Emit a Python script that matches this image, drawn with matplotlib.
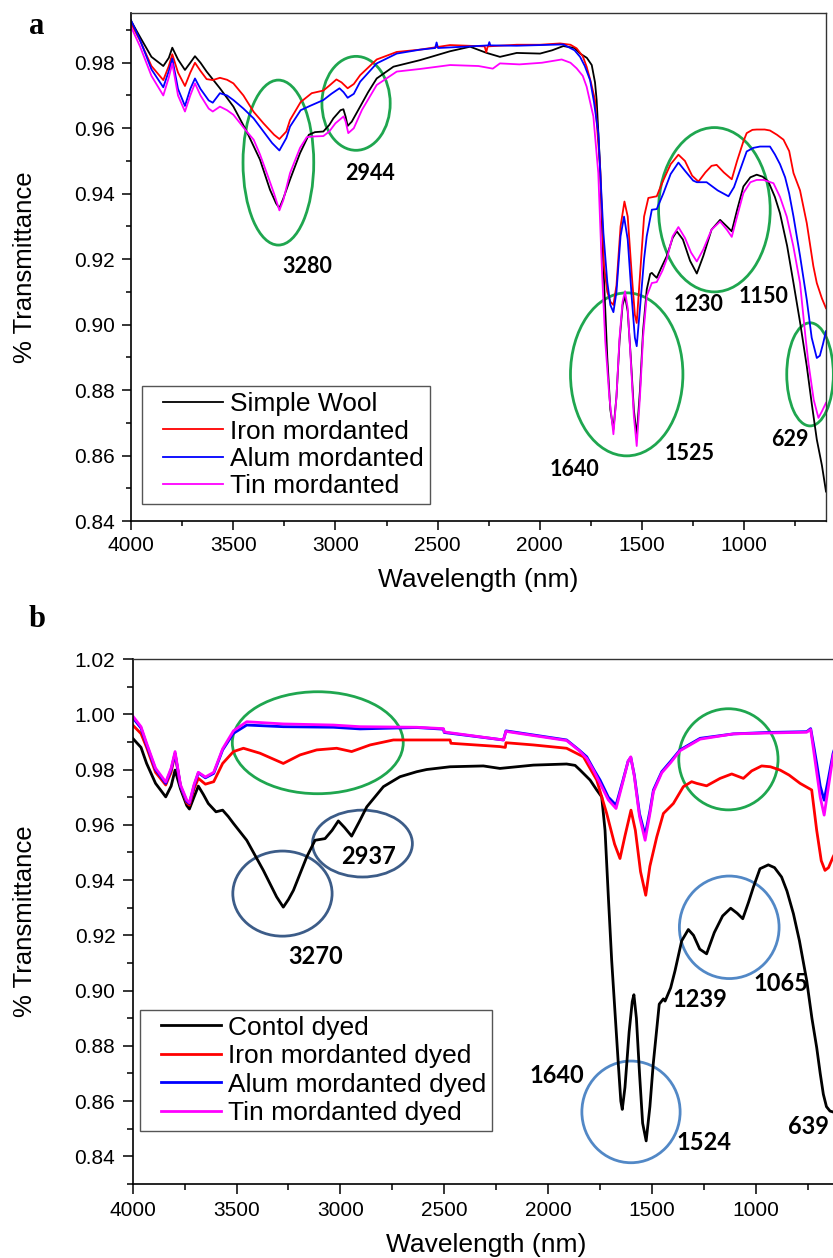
import matplotlib
matplotlib.use("Agg")
import matplotlib.pyplot as plt
from matplotlib.patches import Ellipse
from matplotlib.ticker import MultipleLocator, FormatStrFormatter
from matplotlib.legend_handler import HandlerLine2D
from matplotlib.lines import Line2D

plt.rcParams["font.family"] = ["Liberation Sans", "DejaVu Sans"]

# ---------------- panel a: undyed wool ----------------
a_wool_nm = [4000, 3956, 3900, 3842, 3815, 3798, 3770, 3736, 3710, 3687, 3660, 3630, 3565, 3499,
             3434, 3369, 3320, 3290, 3274, 3255, 3222, 3173, 3130, 3100, 3059, 3030, 3010, 2975,
             2961, 2950, 2940, 2920, 2879, 2840, 2798, 2716, 2586, 2521, 2440, 2341, 2260, 2195,
             2113, 1999, 1940, 1885, 1830, 1803, 1770, 1746, 1730, 1722, 1705, 1689, 1670, 1655,
             1640, 1625, 1610, 1595, 1583, 1570, 1555, 1540, 1526, 1510, 1495, 1477, 1460, 1452,
             1440, 1428, 1405, 1379, 1350, 1330, 1300, 1265, 1232, 1200, 1160, 1118, 1085, 1061,
             1035, 1004, 970, 939, 910, 882, 850, 825, 790, 759, 725, 694, 670, 645, 620, 600]
a_wool_t = [0.9928, 0.9879, 0.9818, 0.9790, 0.9815, 0.9846, 0.9810, 0.9778, 0.9800, 0.9820, 0.9800,
            0.9773, 0.9722, 0.9666, 0.9590, 0.9504, 0.9412, 0.9370, 0.9356, 0.9385, 0.9443, 0.9524,
            0.9580, 0.9588, 0.9590, 0.9610, 0.9630, 0.9655, 0.9658, 0.9635, 0.9607, 0.9620, 0.9666,
            0.9710, 0.9752, 0.9788, 0.9808, 0.9820, 0.9835, 0.9849, 0.9830, 0.9818, 0.9830, 0.9828,
            0.9838, 0.9851, 0.9845, 0.9828, 0.9815, 0.9793, 0.9740, 0.9686, 0.9480, 0.9179, 0.8900,
            0.8740, 0.8680, 0.8780, 0.8950, 0.9060, 0.9087, 0.9040, 0.8900, 0.8740, 0.8660, 0.8800,
            0.8980, 0.9107, 0.9155, 0.9158, 0.9150, 0.9143, 0.9175, 0.9209, 0.9265, 0.9285, 0.9260,
            0.9195, 0.9156, 0.9210, 0.9290, 0.9320, 0.9300, 0.9285, 0.9350, 0.9422, 0.9450, 0.9458,
            0.9452, 0.9437, 0.9390, 0.9340, 0.9240, 0.9127, 0.9000, 0.8873, 0.8760, 0.8649, 0.8570,
            0.8490]

a_iron_nm = [4000, 3956, 3900, 3842, 3815, 3798, 3770, 3736, 3710, 3687, 3660, 3630, 3600, 3565,
             3530, 3499, 3450, 3400, 3352, 3300, 3274, 3240, 3222, 3170, 3116, 3059, 3030, 2995,
             2970, 2940, 2910, 2879, 2798, 2700, 2586, 2439, 2270, 2262, 2255, 2113, 1999, 1901,
             1850, 1820, 1790, 1771, 1750, 1730, 1705, 1686, 1670, 1655, 1640, 1625, 1605, 1586,
             1570, 1550, 1535, 1526, 1510, 1490, 1469, 1445, 1428, 1410, 1395, 1360, 1322, 1290,
             1255, 1224, 1190, 1160, 1135, 1100, 1061, 1035, 1004, 988, 960, 939, 900, 874, 840,
             808, 780, 759, 727, 694, 662, 645, 620, 600]
a_iron_t = [0.9920, 0.9868, 0.9790, 0.9747, 0.9790, 0.9826, 0.9770, 0.9729, 0.9770, 0.9800, 0.9775,
            0.9750, 0.9747, 0.9754, 0.9748, 0.9737, 0.9700, 0.9650, 0.9615, 0.9580, 0.9567, 0.9590,
            0.9625, 0.9680, 0.9707, 0.9715, 0.9730, 0.9749, 0.9740, 0.9722, 0.9735, 0.9762, 0.9810,
            0.9833, 0.9840, 0.9854, 0.9850, 0.9832, 0.9850, 0.9855, 0.9855, 0.9859, 0.9855, 0.9844,
            0.9820, 0.9788, 0.9740, 0.9686, 0.9480, 0.9180, 0.9100, 0.9070, 0.9060, 0.9120, 0.9300,
            0.9376, 0.9330, 0.9150, 0.9030, 0.9005, 0.9150, 0.9330, 0.9387, 0.9390, 0.9392, 0.9420,
            0.9442, 0.9490, 0.9519, 0.9500, 0.9455, 0.9437, 0.9465, 0.9485, 0.9488, 0.9465, 0.9444,
            0.9500, 0.9560, 0.9585, 0.9595, 0.9596, 0.9596, 0.9593, 0.9580, 0.9565, 0.9530, 0.9463,
            0.9410, 0.9310, 0.9179, 0.9127, 0.9080, 0.9050]

a_alum_nm = [4000, 3956, 3900, 3842, 3815, 3798, 3770, 3736, 3710, 3687, 3660, 3620, 3600, 3565,
             3530, 3499, 3450, 3400, 3352, 3310, 3274, 3240, 3222, 3170, 3125, 3059, 3020, 2980,
             2960, 2940, 2910, 2879, 2798, 2700, 2586, 2512, 2505, 2498, 2340, 2252, 2247, 2242,
             2113, 1885, 1830, 1803, 1780, 1754, 1735, 1714, 1689, 1670, 1655, 1640, 1625, 1605,
             1588, 1570, 1550, 1535, 1526, 1510, 1490, 1477, 1452, 1428, 1395, 1360, 1322, 1290,
             1250, 1232, 1184, 1130, 1077, 1050, 1020, 988, 955, 923, 874, 850, 825, 800, 780, 759,
             727, 694, 670, 645, 630, 615, 600]
a_alum_t = [0.9930, 0.9870, 0.9780, 0.9725, 0.9775, 0.9813, 0.9720, 0.9668, 0.9720, 0.9752, 0.9720,
            0.9685, 0.9678, 0.9707, 0.9700, 0.9686, 0.9660, 0.9630, 0.9590, 0.9555, 0.9532, 0.9570,
            0.9605, 0.9655, 0.9668, 0.9686, 0.9705, 0.9722, 0.9710, 0.9693, 0.9705, 0.9742, 0.9798,
            0.9828, 0.9840, 0.9845, 0.9862, 0.9845, 0.9850, 0.9853, 0.9863, 0.9853, 0.9852, 0.9856,
            0.9838, 0.9818, 0.9790, 0.9747, 0.9680, 0.9585, 0.9280, 0.9130, 0.9060, 0.9038, 0.9100,
            0.9270, 0.9330, 0.9260, 0.9080, 0.8960, 0.8934, 0.9050, 0.9200, 0.9270, 0.9351, 0.9353,
            0.9402, 0.9460, 0.9495, 0.9470, 0.9440, 0.9435, 0.9435, 0.9410, 0.9392, 0.9420, 0.9473,
            0.9529, 0.9540, 0.9544, 0.9544, 0.9520, 0.9490, 0.9450, 0.9400, 0.9330, 0.9210, 0.9076,
            0.8960, 0.8898, 0.8905, 0.8940, 0.8980]

a_tin_nm = [4000, 3956, 3900, 3842, 3815, 3798, 3770, 3736, 3710, 3687, 3660, 3620, 3600, 3565,
            3530, 3499, 3434, 3400, 3369, 3330, 3300, 3274, 3255, 3222, 3173, 3140, 3100, 3059,
            3030, 3000, 2960, 2950, 2937, 2910, 2870, 2798, 2700, 2586, 2439, 2300, 2230, 2195,
            2100, 1990, 1893, 1850, 1820, 1790, 1771, 1738, 1714, 1697, 1680, 1660, 1640, 1625,
            1610, 1595, 1583, 1570, 1555, 1540, 1526, 1510, 1495, 1477, 1452, 1428, 1400, 1379,
            1350, 1322, 1290, 1260, 1232, 1200, 1160, 1118, 1085, 1061, 1035, 1004, 970, 939, 906,
            857, 825, 792, 760, 727, 700, 686, 660, 637, 620, 600]
a_tin_t = [0.9910, 0.9850, 0.9760, 0.9700, 0.9755, 0.9798, 0.9700, 0.9651, 0.9700, 0.9737, 0.9700,
           0.9660, 0.9651, 0.9666, 0.9655, 0.9641, 0.9590, 0.9565, 0.9520, 0.9453, 0.9400, 0.9349,
           0.9380, 0.9463, 0.9540, 0.9573, 0.9575, 0.9576, 0.9590, 0.9615, 0.9636, 0.9620, 0.9585,
           0.9600, 0.9656, 0.9732, 0.9773, 0.9781, 0.9793, 0.9790, 0.9782, 0.9798, 0.9795, 0.9800,
           0.9810, 0.9800, 0.9783, 0.9760, 0.9727, 0.9636, 0.9463, 0.9180, 0.8950, 0.8780, 0.8665,
           0.8780, 0.8960, 0.9070, 0.9102, 0.9050, 0.8890, 0.8720, 0.8629, 0.8780, 0.8960, 0.9087,
           0.9127, 0.9130, 0.9165, 0.9200, 0.9270, 0.9298, 0.9265, 0.9220, 0.9193, 0.9230, 0.9290,
           0.9315, 0.9290, 0.9268, 0.9330, 0.9402, 0.9435, 0.9442, 0.9442, 0.9432, 0.9390, 0.9330,
           0.9240, 0.9127, 0.8960, 0.8883, 0.8770, 0.8715, 0.8735, 0.8761]

# ---------------- panel b: dyed wool ----------------
b_ctrl_nm = [4000, 3960, 3933, 3890, 3841, 3815, 3796, 3770, 3740, 3727, 3705, 3684, 3660, 3636,
             3599, 3567, 3540, 3515, 3451, 3371, 3307, 3275, 3250, 3226, 3162, 3122, 3074, 3040,
             3010, 2980, 2946, 2910, 2873, 2793, 2713, 2633, 2585, 2472, 2312, 2232, 2071, 1911,
             1870, 1846, 1798, 1766, 1742, 1726, 1710, 1694, 1662, 1650, 1643, 1630, 1610, 1595,
             1587, 1575, 1560, 1545, 1528, 1510, 1494, 1465, 1445, 1437, 1429, 1410, 1389, 1357,
             1325, 1300, 1270, 1237, 1200, 1160, 1121, 1090, 1063, 1035, 1012, 980, 940, 910, 876,
             850, 819, 790, 755, 730, 707, 690, 675, 660, 643, 625, 600]
b_ctrl_t = [0.9913, 0.9880, 0.9822, 0.9750, 0.9701, 0.9740, 0.9798, 0.9730, 0.9670, 0.9657, 0.9700,
            0.9740, 0.9710, 0.9677, 0.9647, 0.9653, 0.9630, 0.9605, 0.9544, 0.9435, 0.9339, 0.9302,
            0.9330, 0.9363, 0.9484, 0.9544, 0.9550, 0.9580, 0.9614, 0.9590, 0.9559, 0.9610, 0.9665,
            0.9738, 0.9774, 0.9792, 0.9800, 0.9810, 0.9813, 0.9804, 0.9816, 0.9820, 0.9815, 0.9798,
            0.9762, 0.9726, 0.9701, 0.9580, 0.9339, 0.9109, 0.8734, 0.8600, 0.8570, 0.8650, 0.8850,
            0.8960, 0.8985, 0.8900, 0.8700, 0.8520, 0.8456, 0.8580, 0.8734, 0.8951, 0.8970, 0.8962,
            0.8976, 0.9010, 0.9072, 0.9180, 0.9221, 0.9200, 0.9150, 0.9133, 0.9210, 0.9270, 0.9298,
            0.9280, 0.9260, 0.9320, 0.9374, 0.9441, 0.9455, 0.9445, 0.9411, 0.9360, 0.9278, 0.9180,
            0.9036, 0.8900, 0.8794, 0.8700, 0.8625, 0.8580, 0.8564, 0.8560, 0.8558]

b_iron_nm = [4000, 3960, 3933, 3890, 3841, 3815, 3796, 3770, 3740, 3727, 3705, 3684, 3650, 3610,
             3567, 3515, 3467, 3387, 3275, 3194, 3114, 3018, 2946, 2857, 2745, 2633, 2472, 2468,
             2232, 2206, 2203, 2071, 1911, 1830, 1766, 1718, 1680, 1654, 1630, 1601, 1580, 1555,
             1530, 1510, 1477, 1445, 1397, 1349, 1309, 1285, 1237, 1172, 1116, 1060, 1020, 972,
             930, 883, 840, 787, 731, 707, 685, 667, 650, 628, 610]
b_iron_t = [0.9961, 0.9930, 0.9880, 0.9790, 0.9744, 0.9790, 0.9856, 0.9740, 0.9680, 0.9671, 0.9730,
            0.9768, 0.9747, 0.9756, 0.9822, 0.9865, 0.9877, 0.9859, 0.9822, 0.9853, 0.9871, 0.9877,
            0.9865, 0.9889, 0.9907, 0.9907, 0.9907, 0.9895, 0.9883, 0.9880, 0.9897, 0.9889, 0.9877,
            0.9846, 0.9762, 0.9641, 0.9530, 0.9478, 0.9560, 0.9653, 0.9580, 0.9430, 0.9345, 0.9450,
            0.9556, 0.9641, 0.9677, 0.9738, 0.9756, 0.9750, 0.9741, 0.9768, 0.9784, 0.9768, 0.9795,
            0.9813, 0.9810, 0.9798, 0.9780, 0.9750, 0.9726, 0.9580, 0.9470, 0.9435, 0.9445, 0.9484,
            0.9510]

b_alum_nm = [4000, 3960, 3933, 3890, 3841, 3815, 3796, 3770, 3740, 3727, 3705, 3684, 3650, 3610,
             3567, 3515, 3451, 3275, 3034, 2906, 2633, 2504, 2500, 2215, 2203, 1911, 1850, 1814,
             1780, 1750, 1710, 1673, 1640, 1615, 1602, 1585, 1560, 1533, 1510, 1493, 1453, 1410,
             1365, 1268, 1108, 948, 755, 736, 720, 707, 690, 671, 650, 628, 610]
b_alum_t = [0.9988, 0.9950, 0.9890, 0.9800, 0.9750, 0.9800, 0.9859, 0.9740, 0.9685, 0.9677, 0.9740,
            0.9788, 0.9770, 0.9786, 0.9871, 0.9931, 0.9961, 0.9955, 0.9953, 0.9947, 0.9952, 0.9946,
            0.9934, 0.9907, 0.9940, 0.9907, 0.9870, 0.9846, 0.9800, 0.9762, 0.9700, 0.9671, 0.9760,
            0.9830, 0.9844, 0.9780, 0.9640, 0.9562, 0.9650, 0.9726, 0.9792, 0.9830, 0.9871, 0.9913,
            0.9929, 0.9934, 0.9937, 0.9948, 0.9880, 0.9822, 0.9740, 0.9689, 0.9770, 0.9859, 0.9900]

b_tin_nm = b_alum_nm
b_tin_t = [0.9994, 0.9955, 0.9895, 0.9805, 0.9755, 0.9805, 0.9865, 0.9745, 0.9690, 0.9680, 0.9745,
           0.9790, 0.9773, 0.9790, 0.9875, 0.9940, 0.9973, 0.9965, 0.9961, 0.9955, 0.9953, 0.9948,
           0.9936, 0.9907, 0.9938, 0.9905, 0.9868, 0.9840, 0.9795, 0.9750, 0.9690, 0.9659, 0.9755,
           0.9830, 0.9846, 0.9775, 0.9630, 0.9544, 0.9640, 0.9720, 0.9788, 0.9825, 0.9868, 0.9910,
           0.9929, 0.9932, 0.9935, 0.9945, 0.9860, 0.9790, 0.9700, 0.9635, 0.9740, 0.9850, 0.9895]

a_names = ["Simple Wool", "Iron mordanted", "Alum mordanted", "Tin mordanted"]
b_names = ["Contol dyed", "Iron mordanted dyed", "Alum mordanted dyed", "Tin mordanted dyed"]
colors = ["black", "#ff0000", "#0000ff", "#ff00ff"]

# band labels: (text, wavelength, transmittance)
a_peaks = [("3280", 3140, 0.9179), ("2944", 2831, 0.9463), ("1230", 1224, 0.9061),
           ("1150", 906, 0.9087), ("1640", 1830, 0.8558), ("1525", 1265, 0.8607),
           ("629", 776, 0.8649)]
b_peaks = [("3270", 3118, 0.9122), ("2937", 2865, 0.9484), ("1640", 1960, 0.8693),
           ("1524", 1252, 0.8450), ("1239", 1270, 0.8967), ("1065", 881, 0.9025),
           ("639", 746, 0.8509)]

# highlight rings: (centre wl, centre T, width nm, height T, colour)
green = "#1fa64f"
dark_blue = "#3c5c88"
light_blue = "#5288c6"
a_rings = [(3279, 0.9495, 346, 0.0504, green), (2899, 0.9676, 334, 0.0287, green),
           (1146, 0.9351, 546, 0.0502, green), (1575, 0.8848, 550, 0.0498, green),
           (678, 0.8848, 228, 0.0315, green)]
b_rings = [(3109, 0.9897, 823, 0.0369, green), (3279, 0.9351, 478, 0.0308, dark_blue),
           (2894, 0.9532, 481, 0.0242, dark_blue), (1132, 0.9837, 478, 0.0366, green),
           (1128, 0.9229, 480, 0.0371, light_blue), (1601, 0.8561, 473, 0.0368, light_blue)]


def style_axes(ax, ylim, tick_len):
    ax.set_xlim(4000, 600)
    ax.set_ylim(*ylim)
    ax.xaxis.set_major_locator(MultipleLocator(500))
    ax.xaxis.set_minor_locator(MultipleLocator(250))
    ax.yaxis.set_major_locator(MultipleLocator(0.02))
    ax.yaxis.set_minor_locator(MultipleLocator(0.01))
    ax.yaxis.set_major_formatter(FormatStrFormatter("%.2f"))
    ax.tick_params(which="major", direction="out", length=tick_len, width=1.1,
                   labelsize=15, top=False, right=False)
    ax.tick_params(which="minor", direction="out", length=tick_len * 0.6, width=1.1,
                   top=False, right=False)
    ax.tick_params(axis="y", pad=5)
    ax.tick_params(axis="x", pad=4.5)
    for side in ["left", "bottom"]:
        ax.spines[side].set_linewidth(1.2)
    for side in ["top", "right"]:
        ax.spines[side].set_linewidth(1.0)
        ax.spines[side].set_color("#333333")


def draw_panel(ax, series, names, lw, rings, peaks, peak_size, legend_anchor, spacing):
    for (nm, t), name, c in zip(series, names, colors):
        ax.plot(nm, t, color=c, lw=lw, label=name)
    for x, y, w, h, c in rings:
        ax.add_patch(Ellipse((x, y), w, h, fill=False, edgecolor=c, lw=2.0, clip_on=False))
    for txt, x, y in peaks:
        ax.text(x, y, txt, ha="center", va="center", fontsize=peak_size,
                fontweight="bold", family=["Lato", "DejaVu Sans"])
    # legend keys start a little in from the frame edge
    leg = ax.legend(loc="lower left", bbox_to_anchor=legend_anchor, borderaxespad=0,
                    fontsize=19, frameon=True, fancybox=False, framealpha=1,
                    edgecolor="#555555", handlelength=2.85, handletextpad=0.27,
                    labelspacing=spacing, borderpad=0.22,
                    handler_map={Line2D: HandlerLine2D(xpad=0.58)})
    leg.get_frame().set_linewidth(1.0)


fig = plt.figure(figsize=(8.33, 12.58), dpi=100)

ax_a = fig.add_axes([0.15726, 0.58585, 0.83433, 0.40382])
style_axes(ax_a, (0.84, 0.9952), 6.5)
draw_panel(ax_a,
           [(a_wool_nm, a_wool_t), (a_iron_nm, a_iron_t), (a_alum_nm, a_alum_t), (a_tin_nm, a_tin_t)],
           a_names, 1.3, a_rings, a_peaks, 15.5, (0.016, 0.033), 0.13)

ax_b = fig.add_axes([0.1593, 0.05882, 0.8478, 0.41733])
style_axes(ax_b, (0.83, 1.02), 7.5)
draw_panel(ax_b,
           [(b_ctrl_nm, b_ctrl_t), (b_iron_nm, b_iron_t), (b_alum_nm, b_alum_t), (b_tin_nm, b_tin_t)],
           b_names, 2.0, b_rings, b_peaks, 17, (0.010, 0.101), 0.17)

# axis titles and panel letters
for y_px in (267, 921):
    fig.text(25 / 833, 1 - y_px / 1258, "% Transmittance", rotation=90,
             ha="center", va="center", fontsize=18.5)
fig.text(478 / 833, 1 - 580 / 1258, "Wavelength (nm)", ha="center", va="center", fontsize=19)
fig.text(486 / 833, 1 - 1245 / 1258, "Wavelength (nm)", ha="center", va="center", fontsize=19)
fig.text(37 / 833, 1 - 27 / 1258, "a", ha="center", va="center", fontsize=22,
         fontweight="bold", family=["Liberation Serif", "DejaVu Serif"])
fig.text(37 / 833, 1 - 620 / 1258, "b", ha="center", va="center", fontsize=22,
         fontweight="bold", family=["Liberation Serif", "DejaVu Serif"])

fig.savefig("out.png", dpi=100)
